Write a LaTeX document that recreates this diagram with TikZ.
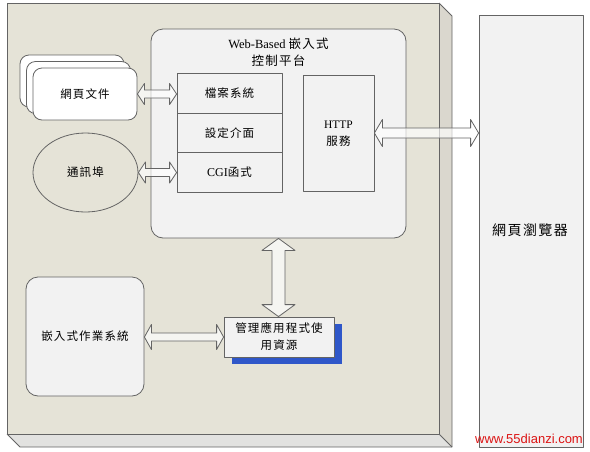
\documentclass[tikz,border=0pt]{standalone}
\usepackage{fontspec}
\setmainfont{Liberation Serif}
\newfontfamily\cjk[LetterSpace=10]{Noto Sans CJK TC}
\usetikzlibrary{calc,shapes.geometric,shadows}

\definecolor{plate}{RGB}{229,227,215}
\definecolor{plateside}{RGB}{218,215,206}
\definecolor{platebottom}{RGB}{226,226,224}
\definecolor{panel}{RGB}{242,242,242}
\definecolor{edge}{RGB}{100,100,100}
\definecolor{shadowblue}{RGB}{47,87,201}
\definecolor{mark}{RGB}{220,20,20}

% horizontal block arrow: from, to, shaft half, head half, head length
\newcommand{\hdarrow}[5]{%
  \filldraw[blockarrow] let \p1=(#1), \p2=(#2) in
    (\x1,\y1) -- (\x1+#5,\y1+#4) -- (\x1+#5,\y1+#3) -- (\x2-#5,\y1+#3)
    -- (\x2-#5,\y1+#4) -- (\x2,\y1) -- (\x2-#5,\y1-#4) -- (\x2-#5,\y1-#3)
    -- (\x1+#5,\y1-#3) -- (\x1+#5,\y1-#4) -- cycle;}
% vertical block arrow: top, bottom, shaft half, head half, head length
\newcommand{\vdarrow}[5]{%
  \filldraw[blockarrow] let \p1=(#1), \p2=(#2) in
    (\x1,\y1) -- (\x1+#4,\y1-#5) -- (\x1+#3,\y1-#5) -- (\x1+#3,\y2+#5)
    -- (\x1+#4,\y2+#5) -- (\x1,\y2) -- (\x1-#4,\y2+#5) -- (\x1-#3,\y2+#5)
    -- (\x1-#3,\y1-#5) -- (\x1-#4,\y1-#5) -- cycle;}

\begin{document}
\begin{tikzpicture}[x=1pt,y=-1pt,line join=round,
    box/.style={draw=edge,fill=panel,line width=0.8pt,inner sep=0pt},
    lbl/.style={font=\cjk\fontsize{11.5}{17}\selectfont,align=center},
    blockarrow/.style={draw=edge,fill=white,fill opacity=0.65,line width=0.8pt}]
  \useasboundingbox (0,0) rectangle (590,451);

  % base plate
  \fill[plateside] (439,3) -- (452,16) -- (452,447) -- (439,434) -- cycle;
  \fill[platebottom] (7,434) -- (439,434) -- (452,447) -- (20,447) -- cycle;
  \draw[edge,line width=0.8pt] (439,3) -- (452,16) -- (452,447) -- (20,447) -- (7,434);
  \draw[edge,line width=0.8pt] (439,434) -- (452,447);
  \draw[edge,fill=plate,line width=0.8pt] (7,3) rectangle (439,434);

  % browser
  \node[box,fill=panel,minimum width=104,minimum height=432] (browser) at (531,231) {};
  \node[lbl,font=\cjk\fontsize{14}{17}\selectfont] (browsertxt) at (530,230) {網頁瀏覽器};

  % web-based platform
  \node[box,rounded corners=12pt,minimum width=255,minimum height=209] (web) at (278.5,133.5) {};
  \node[lbl,font=\fontsize{12.5}{17}\selectfont] (webtxt) at (278.5,52) {Web-Based {\cjk 嵌入式}\\{\cjk 控制平台}};
  \node[box,minimum width=105,minimum height=39.5] (fs) at (229.5,93.5) {};
  \node[box,minimum width=105,minimum height=39.5] (ui) at (229.5,133) {};
  \node[box,minimum width=105,minimum height=39.5] (cgi) at (229.5,172.5) {};
  \node[lbl] at (fs) {檔案系統};
  \node[lbl] at (ui) {設定介面};
  \node[lbl] at (cgi) {{\fontsize{12}{17}\selectfont\rmfamily CGI}函式};
  \node[box,minimum width=71,minimum height=116] (http) at (338.5,133) {};
  \node[lbl] (httptxt) at (338.5,133.5) {{\rmfamily HTTP}\\服務};

  % web pages, port
  \node[box,fill=white,rounded corners=9pt,minimum width=104,minimum height=52,
    double copy shadow={shadow xshift=-6.5pt,shadow yshift=6.5pt,fill=white,draw=edge}] (doc) at (85,94) {};
  \node[lbl] at (doc) {網頁文件};
  \node[ellipse,draw=edge,fill=plate,line width=0.8pt,minimum width=105,minimum height=79] (port) at (85.5,172.5) {};
  \node[lbl] at (port) {通訊埠};

  % os and resources
  \node[box,rounded corners=12pt,minimum width=118,minimum height=119] (os) at (85,336.5) {};
  \node[lbl] at (os) {嵌入式作業系統};
  \node[box,minimum width=110,minimum height=40,
    drop shadow={shadow xshift=8pt,shadow yshift=-7pt,fill=shadowblue,opacity=1}] (mgr) at (279,337) {};
  \node[lbl] at (mgr) {管理應用程式使\\用資源};

  % arrows
  \hdarrow{doc.east}{fs.west}{4pt}{10.5pt}{7pt}
  \hdarrow{port.east |- cgi}{cgi.west}{4pt}{10.5pt}{7pt}
  \hdarrow{http.east}{browser.west}{5pt}{13.5pt}{8pt}
  \hdarrow{os.east |- mgr}{mgr.west}{4pt}{12.5pt}{7pt}
  \vdarrow{web.south}{mgr.north}{6.5pt}{16.5pt}{12pt}

  \node[font=\fontspec{Liberation Sans}\fontsize{13}{15}\selectfont,text=mark,inner sep=0pt] (mark) at (529,439) {www.55dianzi.com};
\end{tikzpicture}
\end{document}
